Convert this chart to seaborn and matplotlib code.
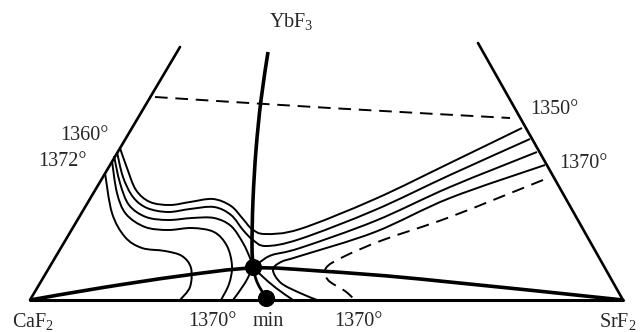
import numpy as np
import pandas as pd
import matplotlib
matplotlib.use("Agg")
import matplotlib.pyplot as plt
from matplotlib.path import Path
from matplotlib.patches import PathPatch
import seaborn as sns

# triangle vertices (pixel space of the drawing, y down)
side_left_x = [30, 180]
side_left_y = [300, 47]
side_right_x = [623, 478]
side_right_y = [300, 43]
base_x = [30, 623]
base_y = [300, 300]

# thick boundary curves
ybf3_curve = [(268, 52), (261, 100), (256, 150), (253, 200), (252, 245), (253, 267)]
max_curve = [(30, 300), (100, 288), (180, 276), (253, 268), (320, 271), (420, 279), (623, 300)]
min_curve = [(253, 267), (257, 282), (266, 298)]

# isotherms, left family
iso_l1 = [(120, 148), (127, 168), (136, 190), (150, 202), (170, 205), (190, 202), (213, 199),
          (231, 206), (243, 219), (252, 229), (265, 234), (300, 229), (375, 199), (450, 163), (522, 128)]
iso_l2 = [(117, 152), (123, 177), (133, 197), (147, 208), (168, 212), (190, 209), (214, 207),
          (231, 215), (243, 230), (253, 240), (266, 246), (300, 239), (375, 210), (450, 175), (530, 139)]
iso_l3 = [(114, 156), (120, 183), (129, 205), (146, 217), (168, 220), (192, 218), (214, 218),
          (231, 226), (243, 243), (250, 258), (253, 267)]
iso_l4 = [(112, 161), (117, 193), (126, 214), (145, 227), (168, 230), (192, 228), (214, 232),
          (227, 246), (232, 266), (229, 284), (221, 300)]
iso_l5 = [(105, 173), (112, 213), (125, 237), (142, 248), (165, 251), (182, 256), (191, 268),
          (190, 287), (180, 300)]
sep_down_left = [(253, 267), (245, 283), (233, 300)]

# isotherms, right family
iso_r3 = [(537, 152), (450, 187), (375, 221), (300, 248), (272, 255), (260, 262), (253, 267)]
sep_down_right = [(253, 267), (262, 276), (276, 288), (293, 300)]
iso_r4 = [(545, 165), (450, 198), (375, 232), (300, 256), (281, 262), (273, 270), (281, 283),
          (300, 293), (317, 300)]
iso_dash = [(543, 180), (450, 217), (383, 240), (343, 257), (326, 268), (328, 280), (345, 291),
            (355, 300)]
iso_top_dash = [(155, 97), (330, 108), (510, 118)]

# points
dot_x = [253, 266]
dot_y = [267, 298]

labels = ["YbF$_3$", "1360°", "1372°", "1350°", "1370°", "CaF$_2$", "1370°", "min", "1370°", "SrF$_2$"]
label_x = [291, 84, 62, 554, 583, 33, 212, 268, 358, 618]
label_y = [22, 135, 162, 110, 163, 322, 322, 322, 322, 322]


def smooth(pts):
    p = np.asarray(pts, float)
    verts = [p[0]]
    codes = [Path.MOVETO]
    n = len(p)
    for i in range(n - 1):
        p0 = p[i - 1] if i > 0 else p[i]
        p1, p2 = p[i], p[i + 1]
        p3 = p[i + 2] if i + 2 < n else p[i + 1]
        verts += [p1 + (p2 - p0) / 6, p2 - (p3 - p1) / 6, p2]
        codes += [Path.CURVE4] * 3
    return Path(verts, codes)


def curve(ax, pts, lw=1.4, ls="solid"):
    ax.add_patch(PathPatch(smooth(pts), facecolor="none", edgecolor="black",
                           lw=lw, linestyle=ls, capstyle="butt", joinstyle="round"))


sns.set_style("white")
plt.rcParams["font.family"] = ["Liberation Serif", "DejaVu Serif"]
plt.rcParams["mathtext.fontset"] = "custom"
plt.rcParams["mathtext.rm"] = "Liberation Serif"
plt.rcParams["mathtext.it"] = "Liberation Serif:italic"

fig = plt.figure(figsize=(6.42, 3.32), dpi=100)
ax = fig.add_axes([0, 0, 1, 1])

for xs, ys, w in [(side_left_x, side_left_y, 1.9), (side_right_x, side_right_y, 1.9),
                  (base_x, base_y, 2.2)]:
    sns.lineplot(x=xs, y=ys, sort=False, estimator=None, color="black", lw=w, ax=ax)

curve(ax, ybf3_curve, lw=2.6)
curve(ax, max_curve, lw=2.6)
curve(ax, min_curve, lw=2.0)

for c in [iso_l1, iso_l2, iso_l3, iso_l4, iso_l5, sep_down_left, iso_r3, sep_down_right, iso_r4]:
    curve(ax, c)
curve(ax, iso_dash, ls=(0, (6.5, 4)))
curve(ax, iso_top_dash, ls=(0, (6.5, 4)))

sns.scatterplot(x=dot_x, y=dot_y, s=130, color="black", edgecolor="black", ax=ax, zorder=5)

for t, x, y in zip(labels, label_x, label_y):
    ax.text(x, y, t, fontsize=14.5, ha="center", va="center")

ax.set_xlim(0, 642)
ax.set_ylim(332, 0)
ax.axis("off")
fig.savefig("out.png", dpi=100)
